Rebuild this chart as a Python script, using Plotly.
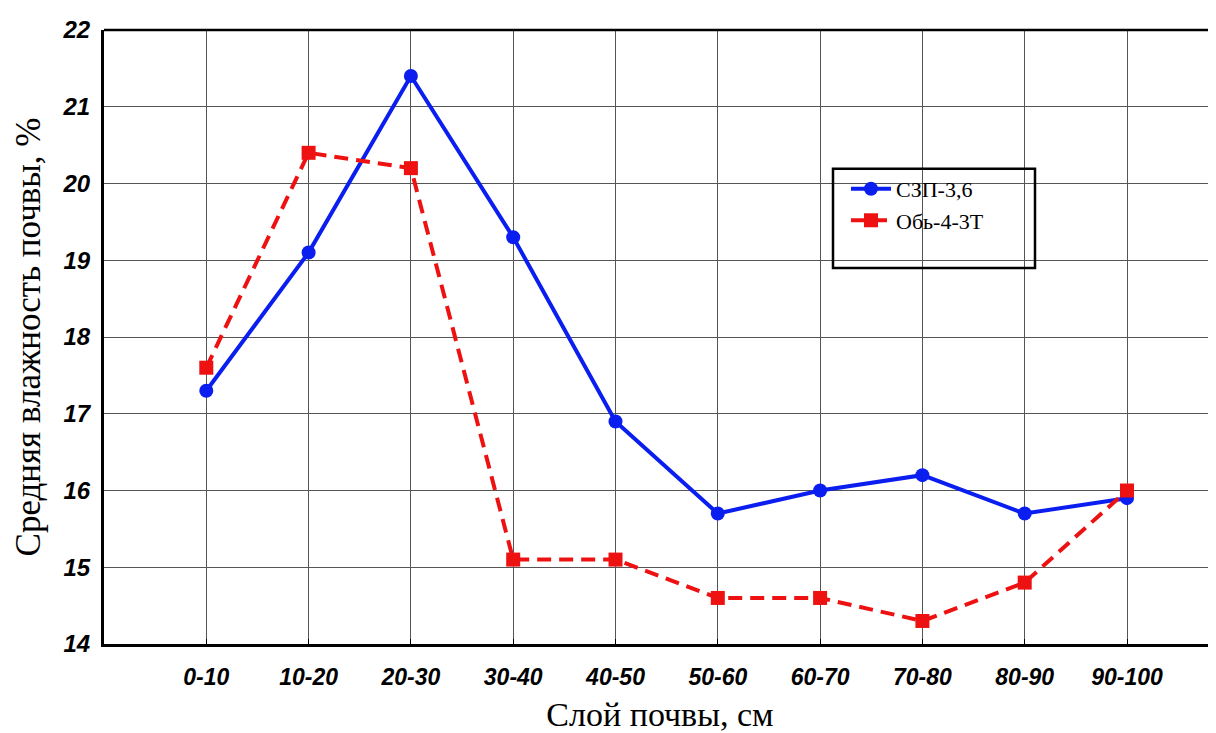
import plotly.graph_objects as go

categories = ["0-10", "10-20", "20-30", "30-40", "40-50", "50-60", "60-70", "70-80", "80-90", "90-100"]
szp_values = [17.3, 19.1, 21.4, 19.3, 16.9, 15.7, 16.0, 16.2, 15.7, 15.9]
ob_values = [17.6, 20.4, 20.2, 15.1, 15.1, 14.6, 14.6, 14.3, 14.8, 16.0]
y_ticks = [14, 15, 16, 17, 18, 19, 20, 21, 22]

xidx = list(range(len(categories)))

# page body has an 8px margin; compensate in margins
OFF = 8
W, H = 1216, 733
L, T, R, B = 104 - OFF, 25 - OFF, 1216 - OFF, 644 - OFF  # plot box in figure coords
PW, PH = R - L, B - T

def px(xp):
    return (xp - OFF - L) / PW

def py(yp):
    return (B - (yp - OFF)) / PH

fig = go.Figure()
fig.add_trace(go.Scatter(
    x=xidx, y=szp_values, name="СЗП-3,6", mode="lines+markers", legendgroup="a",
    line=dict(color="#0a1ef0", width=4),
    marker=dict(symbol="circle", size=14, color="#0a1ef0"),
))
fig.add_trace(go.Scatter(
    x=xidx, y=ob_values, name="Обь-4-3Т", mode="lines+markers", legendgroup="b",
    line=dict(color="#ee1111", width=4, dash="14px,8px"),
    marker=dict(symbol="square", size=14, color="#ee1111"),
))

xtickfont = dict(family="Liberation Sans, Arial", size=23, color="black", weight="bold", style="italic")
ytickfont = dict(family="Liberation Sans, Arial", size=24, color="black", weight="bold", style="italic")

fig.update_layout(
    width=W, height=H,
    margin=dict(l=L, r=W - R, t=T, b=H - B),
    paper_bgcolor="white", plot_bgcolor="white",
    showlegend=True,
    legend=dict(
        x=px(846), y=py(164), xanchor="left", yanchor="top",
        bgcolor="rgba(0,0,0,0)", borderwidth=0,
        font=dict(family="Liberation Serif, Times New Roman", size=22, color="black"),
        tracegroupgap=0, traceorder="grouped", itemwidth=40,
    ),
    shapes=[dict(type="rect", xref="paper", yref="paper",
                 x0=px(833), x1=px(1035), y0=py(265), y1=py(165),
                 line=dict(color="black", width=2.5), fillcolor="rgba(0,0,0,0)"),
            dict(type="line", xref="paper", yref="paper", x0=0, x1=1, y0=1, y1=1,
                 line=dict(color="black", width=2.5))],
)

fig.update_xaxes(
    range=[-1, 9.87],
    tickmode="array", tickvals=xidx, ticktext=categories,
    tickfont=xtickfont,
    showgrid=True, gridcolor="#555555", gridwidth=1,
    showline=True, linecolor="black", linewidth=3, mirror=False,
    ticks="inside", ticklen=5, tickcolor="black",
    ticklabelstandoff=10,
    zeroline=False,
    title=dict(text="Слой почвы, см", font=dict(family="Liberation Serif, Times New Roman", size=34, color="black"), standoff=14),
)
fig.update_yaxes(
    range=[14, 22],
    tickmode="array", tickvals=y_ticks, ticktext=[str(v) for v in y_ticks],
    tickfont=ytickfont,
    showgrid=True, gridcolor="#555555", gridwidth=1,
    showline=True, linecolor="black", linewidth=3,
    ticks="", ticklabelstandoff=6,
    zeroline=False,
    title=dict(text="Средняя влажность почвы, %", font=dict(family="Liberation Serif, Times New Roman", size=35, color="black"), standoff=12),
)

fig.write_html("out.html")
